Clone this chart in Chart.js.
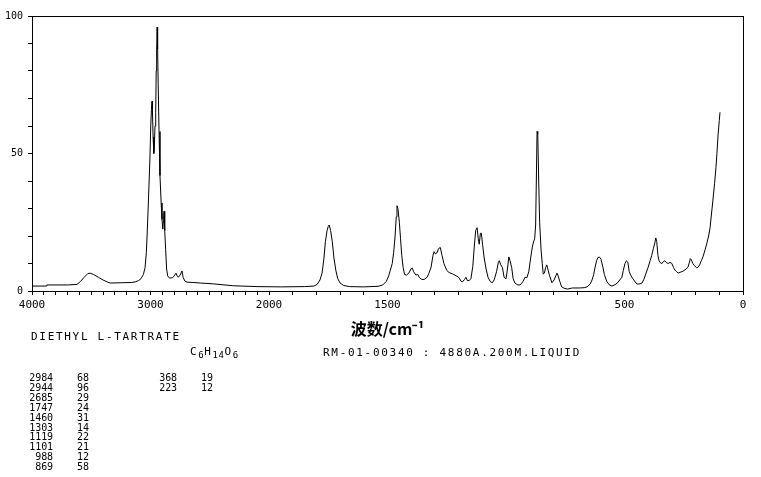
<!DOCTYPE html>
<html>
<head>
<meta charset="utf-8">
<script src="https://cdn.jsdelivr.net/npm/chart.js@4.4.1/dist/chart.umd.min.js"></script>
<style>
  body { margin: 0; background: #fff; }
  #wrap { position: relative; width: 761px; height: 477px; overflow: hidden; }
  #chartBox { position: absolute; left: 0; top: 0; width: 761px; height: 477px; }
  .note { position: absolute; font-family: "DejaVu Sans Mono", monospace; color: #000; white-space: pre; line-height: 12px; }
  .big { font-size: 11px; letter-spacing: 1.7px; }
  .big sub { font-size: 9px; vertical-align: -3px; letter-spacing: 0.5px; }
  .tbl { font-size: 10px; line-height: 10px; letter-spacing: -0.1px; }
</style>
</head>
<body>
<div id="wrap">
  <div id="chartBox"><canvas id="spectrum"></canvas></div>
  <div class="note big" style="left:31px; top:331px">DIETHYL L-TARTRATE</div>
  <div class="note big" style="left:190px; top:346px">C<sub>6</sub>H<sub>14</sub>O<sub>6</sub></div>
  <div class="note big" style="left:323px; top:347px">RM-01-00340 : 4880A.200M.LIQUID</div>
</div>
<script>
// Raman spectrum (wavenumber cm-1, intensity)
const wavenumbers = [
  4000, 3880, 3875, 3700, 3620, 3590, 3560, 3530, 3510, 3480, 3440, 3400, 3360, 3340, 3250, 3160, 3130, 3100, 3080, 3060,
  3046, 3035, 3025, 3015, 3005, 2998, 2992, 2987, 2984, 2978, 2972, 2968, 2962, 2956, 2952, 2948, 2944, 2940, 2935, 2928,
  2920, 2910, 2903, 2896, 2890, 2886, 2880, 2872, 2864, 2855, 2840, 2815, 2800, 2785, 2775, 2765, 2750, 2734, 2725, 2710,
  2690, 2640, 2580, 2470, 2300, 2100, 1950, 1850, 1810, 1797, 1785, 1776, 1768, 1762, 1755, 1750, 1746, 1740, 1733, 1726,
  1718, 1710, 1700, 1685, 1660, 1600, 1540, 1520, 1505, 1495, 1488, 1480, 1474, 1468, 1463, 1460, 1456, 1450, 1445, 1440,
  1434, 1428, 1420, 1410, 1400, 1395, 1390, 1380, 1372, 1365, 1355, 1345, 1333, 1325, 1316, 1308, 1303, 1298, 1292, 1284,
  1277, 1270, 1262, 1250, 1240, 1225, 1210, 1200, 1190, 1184, 1175, 1169, 1163, 1155, 1148, 1140, 1134, 1128, 1122, 1117,
  1113, 1108, 1104, 1099, 1092, 1084, 1076, 1066, 1058, 1050, 1040, 1032, 1028, 1022, 1015, 1008, 1000, 994, 988, 983,
  976, 970, 962, 950, 940, 928, 920, 912, 904, 896, 889, 884, 879, 875, 872, 869, 866, 862, 858, 852,
  847, 843, 838, 833, 828, 822, 816, 806, 797, 790, 785, 780, 773, 765, 755, 740, 720, 690, 670, 658,
  645, 637, 630, 624, 618, 612, 605, 599, 592, 585, 575, 565, 553, 540, 530, 520, 511, 505, 498, 492,
  486, 480, 474, 465, 455, 447, 435, 426, 418, 409, 400, 392, 385, 378, 372, 368, 364, 359, 354, 348,
  342, 336, 330, 323, 316, 308, 300, 293, 287, 280, 274, 265, 253, 240, 232, 226, 222, 218, 212, 205,
  196, 190, 183, 176, 169, 160, 152, 145, 139, 133, 127, 120, 114, 110, 105, 100, 97
];
const intensities = [
  1.8, 1.8, 2.2, 2.2, 2.4, 3.5, 5, 6.3, 6.5, 6, 5, 4, 3.2, 2.9, 3, 3.1, 3.3, 3.8, 4.5, 6,
  8.5, 14, 24, 36, 48, 60, 66, 69, 66, 56, 50, 52, 60, 65, 80, 88, 96, 88, 75, 58,
  42, 32, 26, 22.5, 26, 29, 22, 15, 8, 5.5, 4.7, 4.8, 5.5, 6.5, 5.5, 5, 5.8, 7.3, 5, 3.6,
  3.2, 3.1, 2.9, 2.6, 1.9, 1.6, 1.5, 1.6, 1.8, 2.4, 4, 6.5, 12, 18, 22, 23.5, 24, 22, 18, 12,
  7.5, 4.5, 2.9, 2, 1.6, 1.5, 1.7, 2.2, 3.5, 5.5, 7.6, 10, 14, 20, 27, 31, 30, 25, 19, 13,
  8.5, 6, 5.8, 6.5, 8.2, 8.3, 7, 5.8, 6, 4.8, 4.2, 4.2, 5, 6.5, 8.7, 13, 14.3, 13.5, 13.8, 15.5,
  15.8, 13, 10, 7.5, 6.7, 6.2, 5.5, 5, 3.6, 3.3, 4.2, 5, 3.8, 3.8, 4.5, 9, 16, 22, 23, 19,
  17, 21, 21, 17, 12, 8, 5, 3.4, 3, 4, 7, 10.5, 11, 9.5, 8.5, 5, 4.4, 8, 12.4, 11,
  8.5, 4.5, 2.8, 2.2, 2.2, 3.5, 5, 4.8, 7, 12, 16, 17.8, 19, 24, 40, 58, 57, 40, 25, 15,
  10, 6.2, 6.5, 8.5, 9.5, 7.5, 5.5, 3, 4, 5.5, 6.5, 5.5, 3.5, 1.5, 1, 0.7, 1.1, 1.1, 1.2, 1.5,
  2.5, 4, 6, 8.7, 11, 12.2, 12.3, 11.5, 9, 6, 3.5, 2.3, 1.8, 2.3, 2.9, 4, 5, 7.5, 10, 11,
  10.5, 7, 5.8, 4.5, 3.3, 2.5, 2.6, 2.9, 4.3, 6.5, 8.7, 11, 13, 15.5, 17.5, 19.3, 18, 13, 11, 10.2,
  10, 10.7, 11, 10.3, 10, 10.4, 10, 8.5, 7.6, 7, 6.5, 6.8, 7.2, 8, 8.7, 10.5, 11.8, 11.4, 10, 9.2,
  8.5, 8.6, 9.5, 11, 12.4, 15, 17.5, 20, 23, 28, 33, 39, 45, 50, 57, 62, 65
];
const xTickLabels = [4000, 3000, 2000, 1500, 500, 0];
const yTickLabels = [0, 50, 100];
const peakWavenumbers = [2984, 2944, 2685, 1747, 1460, 1303, 1119, 1101, 988, 869, 368, 223];
const peakIntensities = [68, 96, 29, 24, 31, 14, 22, 21, 12, 58, 19, 12];

// peak table under the chart: ten rows in the first pair of columns, the rest in the second
const wrap = document.getElementById('wrap');
peakWavenumbers.forEach((w, i) => {
  const col = Math.floor(i / 10);
  const row = i % 10;
  const top = 373 + row * 9.9;
  const a = document.createElement('div');
  a.className = 'note tbl';
  a.style.cssText = `top:${top}px; left:${col ? 149 : 25}px; width:28px; text-align:right`;
  a.textContent = w;
  const b = document.createElement('div');
  b.className = 'note tbl';
  b.style.cssText = `top:${top}px; left:${col ? 201 : 77}px`;
  b.textContent = peakIntensities[i];
  wrap.appendChild(a);
  wrap.appendChild(b);
});

// x axis: 4000-2000 drawn at half the scale of 2000-0
class SplitWaveScale extends Chart.LinearScale {
  static id = 'splitwave';
  static defaults = Chart.LinearScale.defaults;
  toUnits(v) { return v >= 2000 ? (4000 - v) / 2 : 1000 + (2000 - v); }
  getPixelForValue(v) { return this.getPixelForDecimal(this.toUnits(v) / 3000); }
  getValueForPixel(px) {
    const u = this.getDecimalForPixel(px) * 3000;
    return u <= 1000 ? 4000 - 2 * u : 2000 - (u - 1000);
  }
  buildTicks() {
    const ticks = [];
    for (let w = this.max; w >= this.min; w -= 100) ticks.push({ value: w });
    return ticks;
  }
}
Chart.register(SplitWaveScale);

const mono = 'DejaVu Sans Mono';

new Chart(document.getElementById('spectrum'), {
  type: 'line',
  data: {
    datasets: [{
      data: wavenumbers.map((w, i) => ({ x: w, y: intensities[i] })),
      borderColor: '#000',
      borderWidth: 1,
      pointRadius: 0,
      tension: 0,
      fill: false
    }]
  },
  options: {
    responsive: true,
    maintainAspectRatio: false,
    animation: false,
    devicePixelRatio: 1,
    layout: { padding: { left: 0, top: 16, right: 18, bottom: 136 } },
    plugins: { legend: { display: false }, tooltip: { enabled: false } },
    scales: {
      x: {
        type: 'splitwave',
        min: 0,
        max: 4000,
        afterFit: s => { s.height = 50; s.paddingLeft = 0; s.paddingRight = 0; },
        grid: { drawOnChartArea: false, tickLength: 4, color: '#000' },
        border: { color: '#000', width: 1 },
        ticks: {
          autoSkip: false, maxRotation: 0, padding: 4, color: '#000',
          font: { family: mono, size: 11 },
          callback: v => xTickLabels.includes(v) ? String(v) : ''
        },
        title: {
          display: true, text: '波数/cm⁻¹', color: '#000',
          font: { family: 'Noto Sans CJK SC', size: 16, weight: 'bold' },
          padding: { top: 0, bottom: 2 }
        }
      },
      y: {
        min: 0,
        max: 100,
        afterFit: s => { s.width = 32; s.paddingTop = 0; s.paddingBottom = 0; },
        grid: { drawOnChartArea: false, tickLength: 4, color: '#000' },
        border: { color: '#000', width: 1 },
        ticks: {
          stepSize: 10, padding: 5, color: '#000',
          font: { family: mono, size: 10 },
          callback: v => yTickLabels.includes(v) ? String(v) : ''
        }
      },
      // top and right frame lines
      x2: {
        type: 'linear', position: 'top',
        afterFit: s => { s.height = 0; },
        grid: { display: false }, ticks: { display: false },
        border: { display: true, color: '#000', width: 1 }
      },
      y2: {
        type: 'linear', position: 'right',
        afterFit: s => { s.width = 0; },
        grid: { display: false }, ticks: { display: false },
        border: { display: true, color: '#000', width: 1 }
      }
    }
  }
});
</script>
</body>
</html>
